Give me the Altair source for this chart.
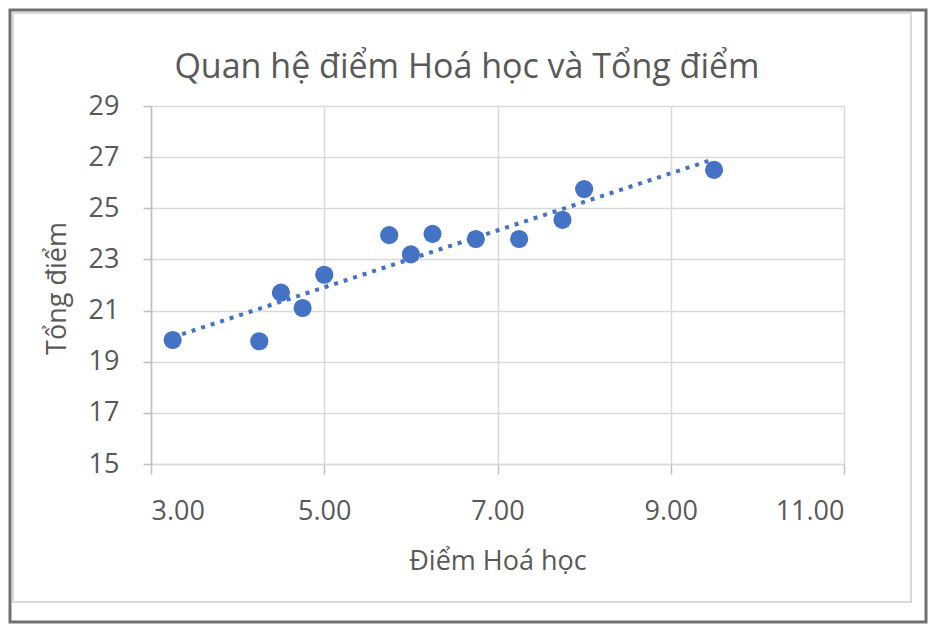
import altair as alt
import pandas as pd

chem = [3.25, 4.25, 4.5, 4.75, 5.0, 5.75, 6.0, 6.25, 6.75, 7.25, 7.75, 8.0, 9.5]
total = [19.85, 19.8, 21.7, 21.1, 22.4, 23.95, 23.2, 24.0, 23.8, 23.8, 24.55, 25.75, 26.5]
x_ticks = [3, 5, 7, 9, 11]
y_ticks = [15, 17, 19, 21, 23, 25, 27, 29]
title_text = "Quan hệ điểm Hoá học và Tổng điểm"

df = pd.DataFrame({"chem": chem, "total": total})

FONT = "Open Sans"
TXT = "#595959"
BLUE = "#4472C4"

x_enc = alt.X(
    "chem:Q",
    scale=alt.Scale(domain=[3, 11], nice=False, zero=False),
    axis=alt.Axis(
        values=x_ticks, format=".2f", title="Điểm Hoá học",
        grid=True, gridColor="#d9d9d9", gridWidth=1.5,
        domain=True, domainColor="#d9d9d9", domainWidth=1.5,
        ticks=True, tickColor="#bfbfbf", tickSize=10, tickWidth=1.5,
        labelFont=FONT, labelFontSize=27, labelColor=TXT, labelPadding=24,
        titleFont=FONT, titleFontSize=27, titleColor=TXT, titleFontWeight="normal",
        titleY=97, titleBaseline="middle",
    ),
)
y_enc = alt.Y(
    "total:Q",
    scale=alt.Scale(domain=[15, 29], nice=False, zero=False),
    axis=alt.Axis(
        values=y_ticks, title="Tổng điểm",
        grid=True, gridColor="#d9d9d9", gridWidth=1.5,
        domain=True, domainColor="#bfbfbf", domainWidth=1.5,
        ticks=True, tickColor="#bfbfbf", tickSize=8, tickWidth=1.5,
        labelFont=FONT, labelFontSize=27, labelColor=TXT, labelPadding=24,
        titleFont=FONT, titleFontSize=27, titleColor=TXT, titleFontWeight="normal",
        titleX=-94, titleY=182, titleAngle=270, titleAlign="center", titleBaseline="middle",
    ),
)

base = alt.Chart(df)

points = base.mark_circle(size=330, color=BLUE, opacity=1).encode(x=x_enc, y=y_enc)

trend = (
    base.transform_regression("chem", "total")
    .mark_line(color=BLUE, strokeWidth=4, strokeDash=[4, 6])
    .encode(x="chem:Q", y="total:Q")
)

one = pd.DataFrame({"t": [title_text]})

title = alt.Chart(one).mark_text(
    font=FONT, fontSize=34, color=TXT, align="center", baseline="alphabetic"
).encode(text="t:N", x=alt.value(316), y=alt.value(-28))

inner = alt.Chart(one).mark_rect(
    fill=None, stroke="#d9d9d9", strokeWidth=2
).encode(
    x=alt.value(-138), x2=alt.value(760), y=alt.value(-93), y2=alt.value(496)
)

border = alt.Chart(one).mark_rect(
    fill=None, stroke="#707070", strokeWidth=3
).encode(
    x=alt.value(-141), x2=alt.value(775), y=alt.value(-96), y2=alt.value(516)
)

chart = (
    alt.layer(inner, trend, points, title, border)
    .properties(
        width=693,
        height=358,
        autosize=alt.AutoSizeParams(type="none"),
        padding={"left": 143, "top": 98, "right": 84, "bottom": 160},
    )
    .configure_view(stroke=None)
    .configure(background="white")
)

chart.save("out.html", embed_options={"renderer": "svg", "actions": False})
